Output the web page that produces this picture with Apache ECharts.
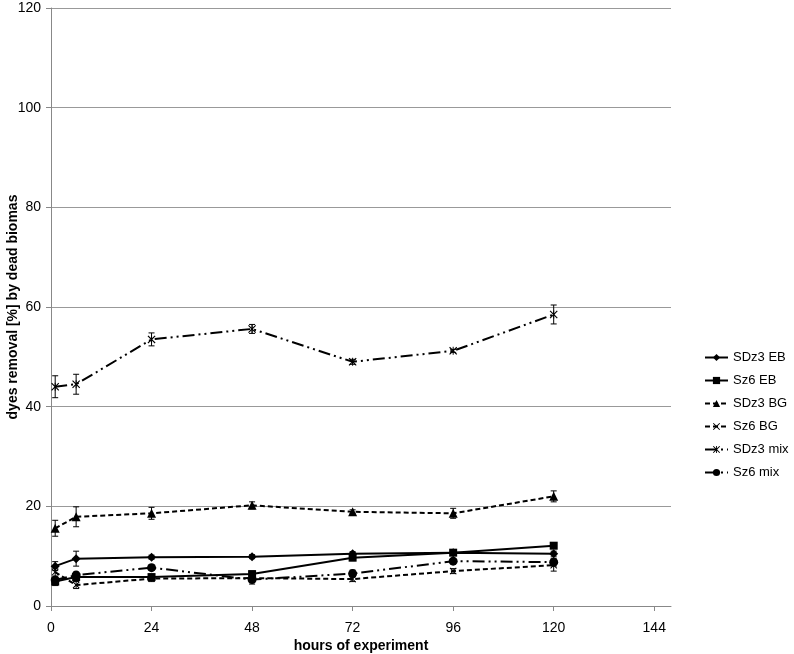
<!DOCTYPE html>
<html>
<head>
<meta charset="utf-8">
<script src="https://cdn.jsdelivr.net/npm/echarts@6/dist/echarts.min.js"></script>
<style>
  html, body { margin: 0; padding: 0; background: #fff; }
  #main { width: 794px; height: 654px; }
</style>
</head>
<body>
<div id="main"></div>
<script>
// sampling times (h)
var hours = [1, 6, 24, 48, 72, 96, 120];
var xTicks = [0, 24, 48, 72, 96, 120, 144];

var sdz3EB = [8.0, 9.5, 9.8, 9.9, 10.5, 10.7, 10.5];
var sdz3EBErr = [0.9, 1.5, 0.4, 0.4, 0.4, 0.3, 0.5];
var sz6EB = [4.9, 5.8, 5.8, 6.4, 9.7, 10.7, 12.1];
var sz6EBErr = [0.8, 0.8, 0.6, 0.6, 0.6, 0.3, 0.4];
var sdz3BG = [15.6, 17.9, 18.6, 20.2, 18.9, 18.6, 22.0];
var sdz3BGErr = [1.6, 2.0, 1.2, 0.7, 0.4, 1.0, 1.1];
var sz6BG = [6.8, 4.2, 5.5, 5.6, 5.4, 7.0, 8.2];
var sz6BGErr = [0.8, 0.7, 0.6, 0.8, 0.5, 0.5, 1.2];
var sdz3Mix = [44.0, 44.5, 53.5, 55.6, 49.0, 51.2, 58.5];
var sdz3MixErr = [2.2, 2.0, 1.3, 0.9, 0.5, 0.3, 1.9];
var sz6Mix = [5.2, 6.2, 7.7, 5.3, 6.5, 9.0, 8.8];
var sz6MixErr = [0.6, 0.6, 0.5, 0.9, 0.7, 0.4, 0.8];

var names = ['SDz3 EB', 'Sz6 EB', 'SDz3 BG', 'Sz6 BG', 'SDz3 mix', 'Sz6 mix'];

var xMark = 'path://M1,0 L5,4 L9,0 L10,1 L6,5 L10,9 L9,10 L5,6 L1,10 L0,9 L4,5 L0,1 Z';
var starMark = 'path://M1,0 L5,4 L9,0 L10,1 L6,5 L10,9 L9,10 L5,6 L1,10 L0,9 L4,5 L0,1 Z M4.4,0 L5.6,0 L5.6,10 L4.4,10 Z';
var dashDot = [12, 4, 2, 4, 2, 4];
var dashed = [5, 3];

function pts(vals) {
  var out = [];
  for (var i = 0; i < hours.length; i++) out.push([hours[i], vals[i]]);
  return out;
}

function errPts(vals, errs) {
  var out = [];
  for (var i = 0; i < hours.length; i++) out.push([hours[i], vals[i] - errs[i], vals[i] + errs[i]]);
  return out;
}

function renderErr(params, api) {
  var lo = api.coord([api.value(0), api.value(1)]);
  var hi = api.coord([api.value(0), api.value(2)]);
  var w = 3;
  var st = { stroke: '#000', lineWidth: 1 };
  return {
    type: 'group',
    children: [
      { type: 'line', shape: { x1: lo[0], y1: lo[1], x2: hi[0], y2: hi[1] }, style: st },
      { type: 'line', shape: { x1: lo[0] - w, y1: lo[1], x2: lo[0] + w, y2: lo[1] }, style: st },
      { type: 'line', shape: { x1: hi[0] - w, y1: hi[1], x2: hi[0] + w, y2: hi[1] }, style: st }
    ]
  };
}

function lineSeries(name, vals, symbol, size, type) {
  return {
    name: name,
    type: 'line',
    data: pts(vals),
    symbol: symbol,
    symbolSize: size,
    showAllSymbol: true,
    itemStyle: { color: '#000' },
    lineStyle: { color: '#000', width: 2, type: type },
    z: 3
  };
}

function errSeries(vals, errs) {
  return {
    type: 'custom',
    renderItem: renderErr,
    data: errPts(vals, errs),
    encode: { x: 0, y: [1, 2] },
    silent: true,
    z: 2
  };
}

var chart = echarts.init(document.getElementById('main'));

var option = {
  animation: false,
  textStyle: { fontFamily: 'Liberation Sans, Arial, sans-serif' },
  grid: { left: 51, right: 123, top: 8, bottom: 48, outerBoundsMode: 'none', containLabel: false },
  legend: {
    data: names,
    orient: 'vertical',
    left: 699,
    top: 346,
    itemWidth: 23,
    itemHeight: 9,
    itemGap: 10,
    textStyle: { fontSize: 13, color: '#000' }
  },
  xAxis: {
    type: 'value',
    min: 0,
    max: 148,
    name: 'hours of experiment',
    nameLocation: 'middle',
    nameGap: 33,
    nameMoveOverlap: false,
    nameTextStyle: { fontWeight: 'bold', fontSize: 14, color: '#000' },
    axisLine: { lineStyle: { color: '#888' } },
    axisTick: { show: true, length: 5, customValues: xTicks, lineStyle: { color: '#888' } },
    axisLabel: { customValues: xTicks, margin: 15, fontSize: 14, color: '#000' },
    splitLine: { show: false }
  },
  yAxis: {
    type: 'value',
    min: 0,
    max: 120,
    interval: 20,
    name: 'dyes removal [%] by dead biomas',
    nameLocation: 'middle',
    nameGap: 31,
    nameMoveOverlap: false,
    nameTextStyle: { fontWeight: 'bold', fontSize: 14, color: '#000' },
    axisLine: { show: true, lineStyle: { color: '#888' } },
    axisTick: { show: true, length: 5, lineStyle: { color: '#888' } },
    axisLabel: { margin: 10, fontSize: 14, color: '#000' },
    splitLine: { lineStyle: { color: '#999', width: 1 } }
  },
  series: [
    lineSeries(names[0], sdz3EB, 'diamond', 9, 'solid'),
    lineSeries(names[1], sz6EB, 'rect', 8, 'solid'),
    lineSeries(names[2], sdz3BG, 'triangle', 9, dashed),
    lineSeries(names[3], sz6BG, xMark, 7, dashed),
    lineSeries(names[4], sdz3Mix, starMark, 8, dashDot),
    lineSeries(names[5], sz6Mix, 'circle', 9, dashDot),
    errSeries(sdz3EB, sdz3EBErr),
    errSeries(sz6EB, sz6EBErr),
    errSeries(sdz3BG, sdz3BGErr),
    errSeries(sz6BG, sz6BGErr),
    errSeries(sdz3Mix, sdz3MixErr),
    errSeries(sz6Mix, sz6MixErr)
  ]
};

chart.setOption(option);
</script>
</body>
</html>
